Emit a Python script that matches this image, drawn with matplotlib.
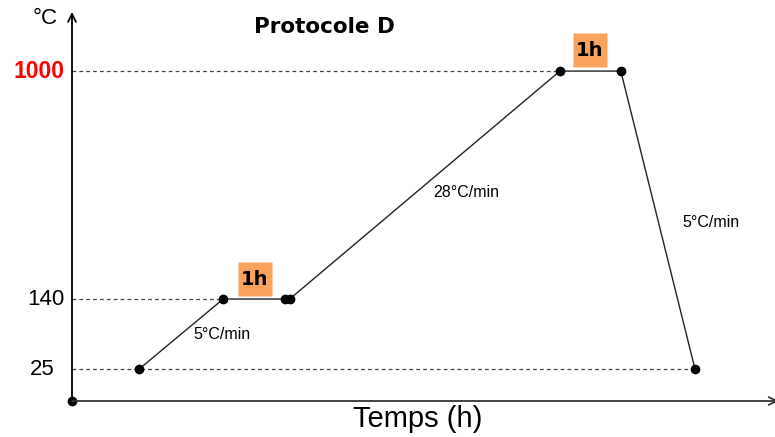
import numpy as np
import matplotlib
matplotlib.use('Agg')
import matplotlib.pyplot as plt

plt.rcParams['font.family'] = ['Liberation Sans', 'DejaVu Sans']

# protocol steps (schematic time axis, hours) and temperatures (°C)
temps_h = [0.96, 2.16, 3.04, 3.11, 6.97, 7.84, 8.90]
temp_c = [25, 140, 140, 140, 1000, 1000, 25]

levels = [25, 140, 1000]
level_labels = ['25', '140', '1000']
level_ends = [8.90, 2.16, 6.97]   # where the dashed guides stop

rates = ['5°C/min', '28°C/min', '5°C/min']
rate_pos = [(2.14, 82), (5.63, 543), (9.13, 430)]
hold_pos = [(2.61, 215), (7.40, 1079)]

# y axis is not to scale: piecewise mapping of the temperature levels
y_val = [-1000, 0, 25, 140, 1000, 5000]
y_px = [-1280, 0, 32, 102, 330, 1390]


def fwd(y):
    return np.interp(y, y_val, y_px)


def inv(p):
    return np.interp(p, y_px, y_val)


fig = plt.figure(figsize=(7.75, 4.37), dpi=100)
ax = fig.add_axes([72 / 775, 36 / 437, 703 / 775, 389 / 437])
ax.set_yscale('function', functions=(fwd, inv))
ax.set_xlim(0, 703 / 70)
ax.set_ylim(0, 1223)
for s in ax.spines.values():
    s.set_visible(False)
ax.set_xticks([])
ax.set_yticks([])

# axes with arrows
ax.annotate('', xy=(0, 1.0), xytext=(0, 0), xycoords='axes fraction',
            arrowprops=dict(arrowstyle='->', lw=1.3, color='black',
                            shrinkA=0, shrinkB=0, mutation_scale=14))
ax.annotate('', xy=(1.005, 0), xytext=(0, 0), xycoords='axes fraction',
            arrowprops=dict(arrowstyle='->', lw=1.3, color='#333333',
                            shrinkA=0, shrinkB=0, mutation_scale=14))

# dashed guide lines
for lv, xe in zip(levels, level_ends):
    ax.plot([0, xe], [lv, lv], ls=(0, (3, 2.5)), color='#444444', lw=0.9)

# temperature profile
ax.plot(temps_h, temp_c, color='#222222', lw=1.0)
ax.plot(temps_h, temp_c, 'o', color='black', ms=6)
ax.plot([0], [0], 'o', color='black', ms=6, clip_on=False)

# level labels
for lv, lab in zip(levels, level_labels):
    if lab == '1000':
        ax.text(-0.11, lv, lab, ha='right', va='center', fontsize=16.5,
                color='#ff0000', fontweight='bold')
    elif lab == '25':
        ax.text(-0.25, lv, lab, ha='right', va='center', fontsize=16)
    else:
        ax.text(-0.11, lv, lab, ha='right', va='center', fontsize=16)

for txt, (x, y) in zip(rates, rate_pos):
    ax.text(x, y, txt, ha='center', va='center', fontsize=11.5)

# 1h holding boxes
for x, y in hold_pos:
    ax.plot([x], [y], 's', ms=24.5, color='#fba35c', mec='none')
    ax.text(x, y, '1h', ha='center', va='center', fontsize=14,
            fontweight='bold', family='DejaVu Sans')

fig.text(324 / 775, 1 - 27 / 437, 'Protocole D', ha='center', va='center',
         fontsize=15.5, fontweight='bold', family='DejaVu Sans')
fig.text(45 / 775, 1 - 18 / 437, '°C', ha='center', va='center', fontsize=16)
fig.text(418 / 775, 1 - 419 / 437, 'Temps (h)', ha='center', va='center',
         fontsize=21)

fig.savefig('out.png', dpi=100)
